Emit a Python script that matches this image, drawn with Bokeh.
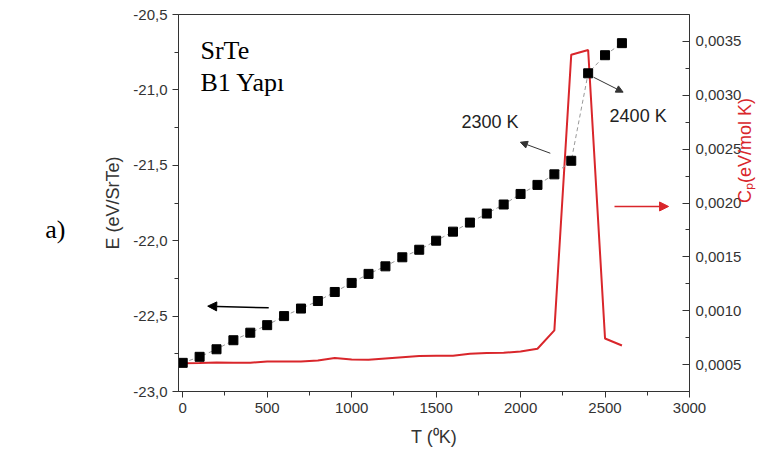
import math
from bokeh.plotting import figure
from bokeh.models import (Range1d, LinearAxis, FixedTicker, CustomJSTickFormatter,
                          Label, Arrow, NormalHead, ColumnDataSource)
from bokeh.embed import file_html
from bokeh.resources import INLINE

# ---- data ----
T = [0, 100, 200, 300, 400, 500, 600, 700, 800, 900, 1000, 1100, 1200, 1300,
     1400, 1500, 1600, 1700, 1800, 1900, 2000, 2100, 2200, 2300, 2400, 2500, 2600]
E = [-22.81, -22.77, -22.72, -22.66, -22.61, -22.56, -22.50, -22.45, -22.40,
     -22.34, -22.28, -22.22, -22.17, -22.11, -22.06, -22.00, -21.94, -21.88,
     -21.82, -21.76, -21.69, -21.63, -21.56, -21.47, -20.89, -20.77, -20.69]
Cp = [0.000513, 0.000515, 0.000520, 0.000517, 0.000517, 0.000529, 0.000529,
      0.000529, 0.000538, 0.000561, 0.000547, 0.000545, 0.000557, 0.000569,
      0.000580, 0.000582, 0.000582, 0.000600, 0.000608, 0.000610, 0.000622,
      0.000647, 0.000817, 0.003377, 0.003420, 0.000742, 0.000677]

x_ticks = [0, 500, 1000, 1500, 2000, 2500, 3000]
x_minor = [250, 750, 1250, 1750, 2250, 2750]
e_ticks = [-23.0, -22.5, -22.0, -21.5, -21.0, -20.5]
e_minor = [-22.75, -22.25, -21.75, -21.25, -20.75]
cp_ticks = [0.0005, 0.0010, 0.0015, 0.0020, 0.0025, 0.0030, 0.0035]
cp_minor = [0.00075, 0.00125, 0.00175, 0.00225, 0.00275, 0.00325]

SANS = "Liberation Sans"
SERIF = "Liberation Serif"
RED = "#d9262b"
AX = "#333333"

p = figure(width=769, height=464, x_range=Range1d(-25, 3000),
           y_range=Range1d(-23.0, -20.5), output_backend="svg",
           toolbar_location=None, min_border_left=178, min_border_right=80,
           min_border_top=14, min_border_bottom=73)
p.extra_y_ranges = {"cp": Range1d(0.00025, 0.00375)}
p.grid.visible = False
p.outline_line_color = AX
p.outline_line_width = 1

def style(ax, fmt):
    ax.axis_line_color = AX
    ax.major_tick_line_color = AX
    ax.minor_tick_line_color = AX
    ax.major_label_text_font = SANS
    ax.major_label_text_font_size = "15px"
    ax.major_label_text_color = AX
    ax.axis_label_text_font = SANS
    ax.axis_label_text_font_size = "18px"
    ax.axis_label_text_font_style = "normal"
    ax.axis_label_text_color = AX
    ax.formatter = CustomJSTickFormatter(code=fmt)

xa = p.xaxis[0]
style(xa, "return tick.toFixed(0);")
xa.ticker = FixedTicker(ticks=x_ticks, minor_ticks=x_minor)
xa.major_tick_out = 6
xa.major_tick_in = 0
xa.minor_tick_out = 4
xa.minor_tick_in = 0
xa.major_label_standoff = 5
xa.axis_label = "T (\u2070K)"
xa.axis_label_standoff = 11

ya = p.yaxis[0]
style(ya, "return tick.toFixed(1).replace('.', ',');")
ya.ticker = FixedTicker(ticks=e_ticks, minor_ticks=e_minor)
ya.major_tick_out = 6
ya.major_tick_in = 0
ya.minor_tick_out = 4
ya.minor_tick_in = 0
ya.major_label_standoff = 5
ya.axis_label = "E (eV/SrTe)"
ya.axis_label_standoff = 7

ra = LinearAxis(y_range_name="cp")
style(ra, "return tick.toFixed(4).replace('.', ',');")
ra.ticker = FixedTicker(ticks=cp_ticks, minor_ticks=cp_minor)
ra.major_tick_out = 0
ra.major_tick_in = 7
ra.minor_tick_out = 0
ra.minor_tick_in = 4
ra.major_label_standoff = 6
ra.axis_label = "C\u209a(eV/mol K)"
ra.axis_label_text_color = RED
ra.axis_label_standoff = 1
ra.axis_label_orientation = math.pi / 2
p.add_layout(ra, "right")

# panel label "a)" drawn as the title of a bare extra axis on the left
pa = LinearAxis(ticker=FixedTicker(ticks=[]), axis_line_color=None,
                major_tick_line_color=None, minor_tick_line_color=None,
                major_tick_out=0, major_tick_in=0, minor_tick_out=0,
                minor_tick_in=0, major_label_standoff=0,
                major_label_text_font_size="0px",
                axis_label="\n\na)", axis_label_orientation="horizontal",
                axis_label_standoff=35, axis_label_text_font=SERIF,
                axis_label_text_font_size="26px",
                axis_label_text_line_height=0.9,
                axis_label_text_font_style="normal",
                axis_label_text_color="black")
p.add_layout(pa, "left")

src = ColumnDataSource(dict(T=T, E=E, Cp=Cp))
p.line("T", "Cp", source=src, y_range_name="cp", line_color=RED, line_width=2)
p.line("T", "E", source=src, line_color="#999999", line_width=1, line_dash="4 3")
p.scatter("T", "E", source=src, marker="square", size=9, fill_color="black",
          line_color="black")

# arrows
def arrow(x0, y0, x1, y1, color, lw, size, rng="default"):
    a = Arrow(end=NormalHead(size=size, fill_color=color, line_color=color),
              x_start=x0, y_start=y0, x_end=x1, y_end=y1,
              line_color=color, line_width=lw, y_range_name=rng)
    p.add_layout(a)

arrow(2176, -21.420, 1999, -21.347, "#333333", 1, 7)
arrow(2432, -20.916, 2607, -21.015, "#333333", 1, 7)
arrow(509, -22.445, 148, -22.434, "black", 1.5, 9)
arrow(2556, -21.773, 2876, -21.773, RED, 1.5, 9)

def label(x, y, text, font, size, color="#222222", baseline="alphabetic"):
    p.add_layout(Label(x=x, y=y, text=text, text_font=font,
                       text_font_size=size, text_color=color,
                       text_baseline=baseline, text_align="left"))

label(1650, -21.213, "2300 K", SANS, "18px", baseline="middle")
label(2527, -21.173, "2400 K", SANS, "18px", baseline="middle")
label(105, -20.739, "SrTe", SERIF, "26px", color="black")
label(105, -20.949, "B1 Yap\u0131", SERIF, "26px", color="black")

open("out.html", "w").write(file_html(p, INLINE))
